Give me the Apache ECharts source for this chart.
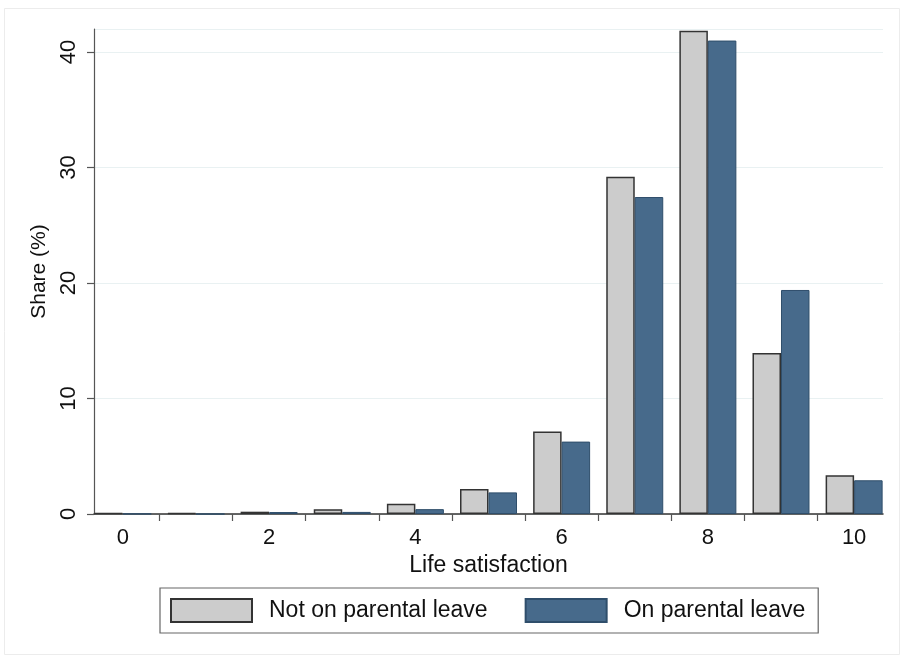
<!DOCTYPE html>
<html>
<head>
<meta charset="utf-8">
<script src="https://cdn.jsdelivr.net/npm/echarts@6/dist/echarts.min.js"></script>
<style>
html,body{margin:0;padding:0;background:#fff;}
#chart{width:904px;height:659px;}
</style>
</head>
<body>
<div id="chart"></div>
<script>
// Data
const categories = [0, 1, 2, 3, 4, 5, 6, 7, 8, 9, 10];
const notOnLeave = [0.08, 0.07, 0.2, 0.42, 0.88, 2.17, 7.15, 29.2, 41.85, 13.95, 3.35];
const onLeave    = [0.02, 0.0, 0.17, 0.18, 0.42, 1.87, 6.27, 27.45, 41.0, 19.4, 2.92];
const xLabelValues = [0, 2, 4, 6, 8, 10];
const xTickValues = [0.5, 1.5, 2.5, 3.5, 4.5, 5.5, 6.5, 7.5, 8.5, 9.5];
const seriesNames = ['Not on parental leave', 'On parental leave'];

const FONT = 'Liberation Sans, Arial, sans-serif';
const chart = echarts.init(document.getElementById('chart'), null, {renderer: 'canvas'});

chart.setOption({
  backgroundColor: '#ffffff',
  animation: false,
  graphic: [{
    type: 'rect',
    shape: {x: 4.5, y: 8.5, width: 895, height: 646},
    style: {fill: 'none', stroke: '#ececec', lineWidth: 1},
    silent: true
  }],
  grid: {left: 94, right: 21, top: 29, bottom: 145},
  legend: {
    left: 160, top: 588,
    orient: 'horizontal',
    data: seriesNames,
    icon: 'rect',
    itemWidth: 81, itemHeight: 23, itemGap: 37,
    padding: [10, 13, 10, 10],
    borderColor: '#666', borderWidth: 1.2,
    backgroundColor: '#fff',
    textStyle: {fontFamily: FONT, fontSize: 23, color: '#111', padding: [0, 0, 0, 12]}
  },
  xAxis: {
    type: 'value',
    min: -0.395, max: 10.395,
    name: 'Life satisfaction',
    nameLocation: 'middle',
    nameGap: 40,
    nameTextStyle: {fontFamily: FONT, fontSize: 23, color: '#111'},
    axisLine: {show: true, onZero: false, lineStyle: {color: '#333', width: 1.5}},
    axisTick: {show: true, length: 7, customValues: xTickValues, lineStyle: {color: '#555', width: 1.2}},
    axisLabel: {customValues: xLabelValues, margin: 13, fontFamily: FONT, fontSize: 22, color: '#111'},
    splitLine: {show: false}
  },
  yAxis: {
    type: 'value',
    min: 0, max: 42, interval: 10,
    name: 'Share (%)',
    nameLocation: 'middle',
    nameGap: 33,
    nameRotate: 90,
    nameTextStyle: {fontFamily: FONT, fontSize: 21, color: '#111'},
    axisLine: {show: true, onZero: false, lineStyle: {color: '#555', width: 1.2}},
    axisTick: {show: true, length: 7, lineStyle: {color: '#555', width: 1.2}},
    axisLabel: {rotate: 90, margin: 14, fontFamily: FONT, fontSize: 22, color: '#111'},
    splitLine: {show: true, lineStyle: {color: '#e9f1f2', width: 1.2}}
  },
  series: [
    {
      name: seriesNames[0],
      type: 'bar',
      data: categories.map((c, i) => [c, notOnLeave[i]]),
      barWidth: 28.5,
      barGap: '0%',
      itemStyle: {color: '#cccccc', borderColor: '#333333', borderWidth: 1.5}
    },
    {
      name: seriesNames[1],
      type: 'bar',
      data: categories.map((c, i) => [c, onLeave[i]]),
      barWidth: 28.5,
      barGap: '0%',
      itemStyle: {color: '#476a8b', borderColor: '#2f4e6b', borderWidth: 1}
    }
  ]
});
</script>
</body>
</html>
